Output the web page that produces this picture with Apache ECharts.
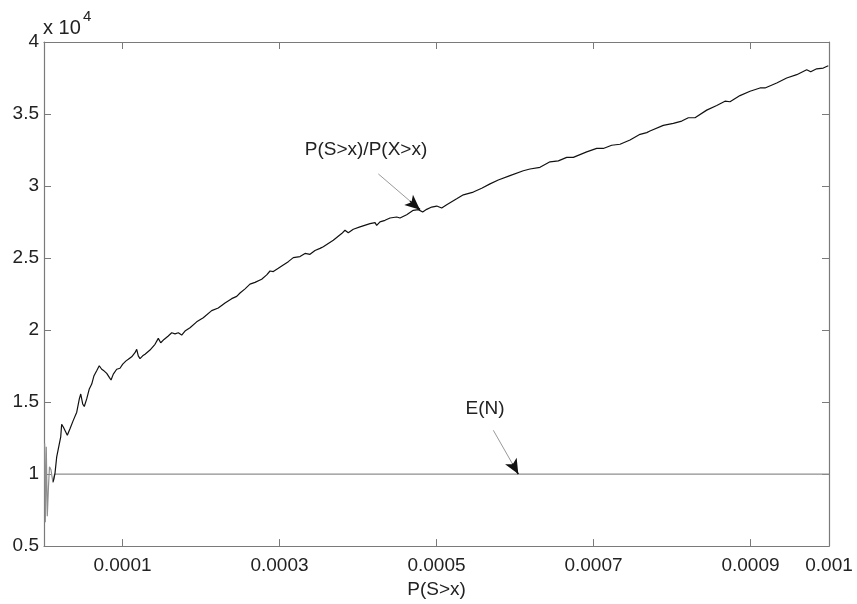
<!DOCTYPE html>
<html>
<head>
<meta charset="utf-8">
<script src="https://cdn.jsdelivr.net/npm/echarts@6/dist/echarts.min.js"></script>
<style>
html,body{margin:0;padding:0;background:#fff;}
#chart{width:857px;height:604px;}
</style>
</head>
<body>
<div id="chart"></div>
<script>
// ---- data (x values in units of 1e-6) ----
var xMainE6 = [11.8,14.0,16.2,18.2,21.3,22.5,24.6,26.8,29.7,33.1,
  37.3,41.7,45.0,46.8,49.3,51.3,54.4,57.7,60.8,63.7,
  67.1,70.4,73.5,76.4,79.9,83.2,85.4,88.3,92.6,96.8,
  100.3,104.5,107.4,111.7,115.9,118.1,120.1,122.3,125.7,128.7,
  130.8,135.0,141.4,145.6,148.7,152.9,158.3,162.7,166.9,171.1,
  175.4,179.6,186.0,194.5,202.9,213.6,222.0,230.6,239.1,245.5,
  249.7,256.1,262.4,268.8,277.3,283.7,287.9,292.1,298.5,304.8,
  311.2,317.6,326.1,332.5,338.9,345.2,351.6,355.8,368.5,379.2,
  383.4,387.6,394.0,402.5,415.3,421.7,423.8,428.0,434.4,440.8,
  449.3,453.5,462.0,470.4,476.8,482.4,487.5,493.9,500.3,506.6,
  513.0,525.7,534.2,546.9,557.6,568.2,578.7,593.6,610.6,619.1,
  631.8,644.6,655.2,665.9,674.3,691.3,704.1,712.5,723.2,733.8,
  746.5,759.3,767.8,771.9,788.9,801.7,812.4,820.8,829.3,844.2,
  857.0,867.5,873.9,886.6,899.4,912.1,918.5,933.4,946.1,958.9,
  971.6,976.7,984.3,992.7,999.1];
var yMain = [9480,10050,11200,11320,12580,13450,13270,13400,12700,13150,
  13730,14300,15220,15560,14870,14690,15220,15910,16250,16830,
  17170,17520,17280,17170,16990,16710,16530,16940,17280,17350,
  17630,17860,17970,18140,18430,18660,18210,18020,18210,18320,
  18430,18610,19010,19420,19120,19350,19590,19810,19740,19810,
  19650,19930,20160,20570,20850,21350,21530,21880,22180,22340,
  22570,22860,23190,23310,23530,23830,24100,24060,24290,24520,
  24750,25030,25100,25320,25260,25520,25670,25790,26240,26700,
  26930,26750,27000,27160,27390,27460,27270,27510,27620,27780,
  27850,27780,28010,28310,28360,28200,28380,28540,28610,28470,
  28700,29110,29390,29580,29850,30150,30420,30720,31060,31180,
  31300,31680,31750,31990,31990,32370,32610,32610,32830,32900,
  33200,33590,33710,33820,34210,34350,34510,34740,34740,35270,
  35590,35890,35850,36280,36580,36810,36810,37150,37500,37730,
  38070,37930,38140,38190,38350];
var xENE6 = [0.8,1.7,2.9,4.2,5.7,7.0,8.9,10.2,11.5,13.4,1000];
var yEN   = [12120,6650,11890,7070,9130,10510,10300,9820,9410,10000,10000];

var xTickVals   = [0.0001,0.0003,0.0005,0.0007,0.0009,0.001];
var xTickLabels = ['0.0001','0.0003','0.0005','0.0007','0.0009','0.001'];
var yTickLabels = ['0.5','1','1.5','2','2.5','3','3.5','4'];

var xAxisName = 'P(S>x)';
// annotations: [label, labelX(e6), labelY, tailX(e6), tailY, headX(e6), headY]
var annMain = ['P(S>x)/P(X>x)', 410.2, 32510, 425.9, 30840, 479.0, 28360];
var annEN   = ['E(N)', 561.8, 14530, 572.4, 13040, 604.2, 10000];

// ---- build ----
var FONT = '"Liberation Sans", Arial, Helvetica, sans-serif';
function pairs(xs, ys){ var o=[]; for (var i=0;i<xs.length;i++) o.push([xs[i]*1e-6, ys[i]]); return o; }

function arrowLines(a){
  var tx=a[3]*1e-6, ty=a[4], hx=a[5]*1e-6, hy=a[6];
  var f=0.76;
  var mx=tx+(hx-tx)*f, my=ty+(hy-ty)*f;
  return [
    [{coord:[tx,ty], symbol:'none', lineStyle:{color:'#9a9a9a', width:1, type:'solid'}},
     {coord:[hx,hy], symbol:'none'}],
    [{coord:[mx,my], symbol:'none', lineStyle:{color:'#111', width:1.5, type:'solid'}},
     {coord:[hx,hy], symbol:'arrow', symbolSize:[10,15]}]
  ];
}
function annPoint(a){
  return {coord:[a[1]*1e-6, a[2]], value:a[0],
    label:{show:true, formatter:a[0], position:'inside', color:'#222', fontSize:19, fontFamily:FONT}};
}

var axisColor = '#7a7a7a';
var chart = echarts.init(document.getElementById('chart'));
chart.setOption({
  animation:false,
  backgroundColor:'#fff',
  grid:{left:44, right:28, top:42, bottom:54, containLabel:false},
  xAxis:[{
    type:'value', min:0, max:0.001, position:'bottom',
    name:xAxisName, nameLocation:'middle', nameGap:29,
    nameTextStyle:{fontSize:19, color:'#222', fontFamily:FONT},
    axisLine:{show:true, onZero:false, lineStyle:{color:axisColor, width:1.2}},
    axisTick:{show:true, inside:true, length:7, customValues:xTickVals, lineStyle:{color:axisColor}},
    axisLabel:{show:true, margin:10, customValues:xTickVals, fontSize:19, color:'#222', fontFamily:FONT,
      formatter:function(v){ for (var i=0;i<xTickVals.length;i++){ if (Math.abs(v-xTickVals[i])<1e-9) return xTickLabels[i]; } return ''; }},
    splitLine:{show:false}
  },{
    type:'value', min:0, max:0.001, position:'top',
    axisLine:{show:true, onZero:false, lineStyle:{color:axisColor, width:1.2}},
    axisTick:{show:true, inside:true, length:7, customValues:xTickVals, lineStyle:{color:axisColor}},
    axisLabel:{show:false}, splitLine:{show:false}
  }],
  yAxis:[{
    type:'value', min:5000, max:40000, interval:5000, position:'left',
    axisLine:{show:true, onZero:false, lineStyle:{color:axisColor, width:1.2}},
    axisTick:{show:true, inside:true, length:7, lineStyle:{color:axisColor}},
    axisLabel:{show:true, margin:5, fontSize:19, color:'#222', fontFamily:FONT,
      formatter:function(v){ var i=Math.round(v/5000)-1; return yTickLabels[i]; }},
    splitLine:{show:false}
  },{
    type:'value', min:5000, max:40000, interval:5000, position:'right',
    axisLine:{show:true, onZero:false, lineStyle:{color:axisColor, width:1.2}},
    axisTick:{show:true, inside:true, length:7, lineStyle:{color:axisColor}},
    axisLabel:{show:false}, splitLine:{show:false}
  }],
  graphic:[
    {type:'text', left:43, top:18, style:{text:'x 10', fontSize:20, fill:'#222', fontFamily:FONT}},
    {type:'text', left:83, top:9, style:{text:'4', fontSize:15, fill:'#222', fontFamily:FONT}}
  ],
  series:[{
    type:'line', name:'E(N)', xAxisIndex:0, yAxisIndex:0,
    data:pairs(xENE6, yEN), showSymbol:false, symbol:'none',
    lineStyle:{color:'#8f8f8f', width:1.2}, silent:true, z:2
  },{
    type:'line', name:'ratio', xAxisIndex:0, yAxisIndex:0,
    data:pairs(xMainE6, yMain), showSymbol:false, symbol:'none',
    lineStyle:{color:'#111', width:1.2}, silent:true, z:3,
    markLine:{silent:true, animation:false, symbol:['none','none'], label:{show:false},
      emphasis:{disabled:true},
      data:arrowLines(annMain).concat(arrowLines(annEN))},
    markPoint:{silent:true, animation:false, symbol:'circle', symbolSize:0,
      data:[annPoint(annMain), annPoint(annEN)]}
  }]
});
</script>
</body>
</html>
